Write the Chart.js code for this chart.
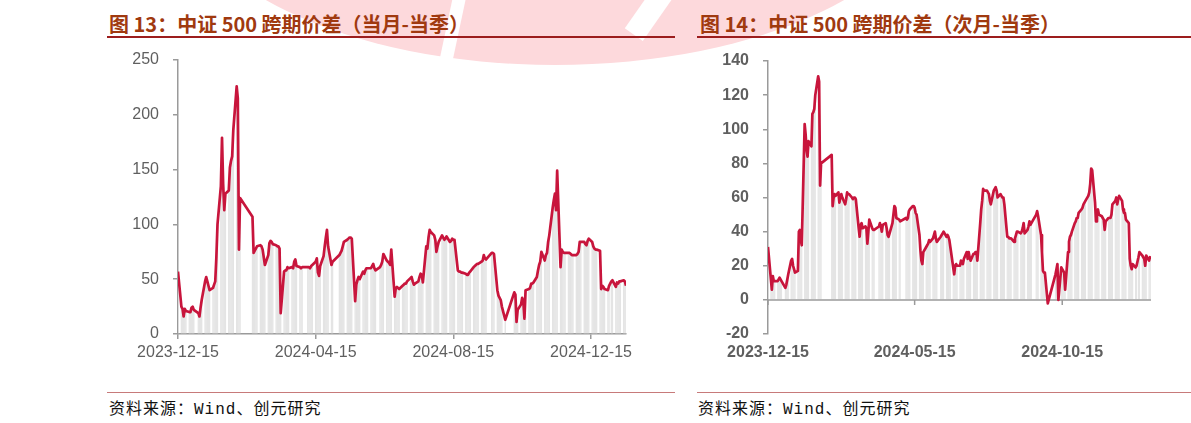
<!DOCTYPE html>
<html>
<head>
<meta charset="utf-8">
<script src="https://cdn.jsdelivr.net/npm/chart.js@4.4.1/dist/chart.umd.min.js"></script>
<style>
  body { margin: 0; width: 1191px; height: 423px; background: #fff; position: relative; overflow: hidden; }
  .wm { position: absolute; left: 175px; top: -305px; width: 760px; height: 370px; border-radius: 50%; background: #fdd9dc; }
  .wm-cut { position: absolute; background: #fff; }
  .title { position: absolute; top: 9px; line-height: 24px; font: bold 20px "Noto Sans CJK SC", sans-serif; color: #a0390f; white-space: nowrap; }
  .rule { position: absolute; top: 36px; height: 2px; background: #9c1d1d; }
  .foot-rule { position: absolute; top: 392px; height: 1px; background: #c77a7a; }
  .source { position: absolute; top: 395px; line-height: 22px; font: 16px "Liberation Mono", "Noto Sans CJK SC", monospace; letter-spacing: 1px; color: #111; white-space: nowrap; }
  canvas { position: absolute; }
</style>
</head>
<body>
<div class="wm"></div>
<div class="wm-cut" style="left:446px;top:-10px;width:13px;height:80px;transform:rotate(12deg);"></div>
<div class="wm-cut" style="left:640px;top:-20px;width:22px;height:60px;transform:rotate(35deg);"></div>

<div class="title" style="left:109px;">图 13：中证 500 跨期价差（当月-当季）</div>
<div class="rule" style="left:107px;width:568px;"></div>
<div class="title" style="left:700px;">图 14：中证 500 跨期价差（次月-当季）</div>
<div class="rule" style="left:697px;width:494px;"></div>

<canvas id="near" width="560" height="330" style="left:100px;top:45px;"></canvas>
<canvas id="next" width="490" height="330" style="left:690px;top:45px;"></canvas>

<div class="foot-rule" style="left:107px;width:568px;"></div>
<div class="source" style="left:109px;">资料来源：Wind、创元研究</div>
<div class="foot-rule" style="left:697px;width:494px;"></div>
<div class="source" style="left:698px;">资料来源：Wind、创元研究</div>

<script>
// exchange closed days inside the range (weekends are skipped too)
const holidays = ['2024-01-01', '2024-02-09', '2024-02-12', '2024-02-13', '2024-02-14', '2024-02-15', '2024-02-16',
  '2024-04-04', '2024-04-05', '2024-05-01', '2024-05-02', '2024-05-03', '2024-06-10', '2024-09-16', '2024-09-17',
  '2024-10-01', '2024-10-02', '2024-10-03', '2024-10-04', '2024-10-07', '2025-01-01'];
const startDate = '2023-12-15';
const endDate = '2025-01-15';

// 当月-当季, one value per trading day, month by month
const nearSpread = [
  57, 25, 23, 16, 23, 21, 20, 20, 24, 25, 22,
  19, 16, 24, 31, 48, 52, 48, 44, 40, 42, 45, 48, 70, 100, 135, 179, 137, 113, 128, 131, 152, 158,
  162, 186, 226, 215, 77, 124, 107, 74, 76, 78, 80, 81, 80, 77, 70,
  63, 72, 83, 85, 84, 82, 81, 80, 80, 78, 19, 57, 58, 58, 61, 60, 61, 60, 66, 68, 62,
  61, 60, 61, 61, 61, 60, 62, 63, 66, 69, 56, 53, 62, 71, 80, 88, 95, 80, 63, 66,
  72, 74, 76, 80, 84, 86, 87, 88, 88, 87, 30, 45, 49, 52, 50, 57, 55, 58, 60, 60,
  60, 62, 64, 60, 58, 61, 63, 66, 73, 67, 66, 65, 63, 77, 34, 42, 43, 42, 41,
  44, 45, 46, 46, 48, 51, 52, 48, 45, 46, 48, 52, 55, 54, 47, 80, 78, 88, 95, 93, 90, 86, 75,
  80, 84, 90, 88, 86, 87, 89, 84, 85, 87, 86, 86, 58, 57, 57, 56, 56, 55, 54, 54, 56, 57,
  61, 62, 63, 64, 64, 66, 67, 72, 69, 68, 74, 74, 73, 40, 35, 33, 31, 25, 13,
  38, 36, 11, 22, 27, 33, 30, 14, 40, 41, 42, 46, 46, 47, 52, 58, 63, 66,
  75, 67, 72, 74, 84, 90, 115, 122, 128, 113, 149, 61, 77, 75, 74, 74, 74, 74, 73, 72, 72,
  72, 73, 75, 84, 84, 84, 82, 81, 85, 87, 84, 80, 78, 77, 77, 76, 41, 44, 43, 41, 40, 44,
  48, 49, 43, 47, 46, 48, 48, 49, 48, 44
];

// 次月-当季
const nextSpread = [
  31, 12, 6, 14, 11, 11, 11, 12, 13, 12, 11,
  7, 9, 12, 15, 23, 24, 20, 18, 16, 17, 40, 41, 35, 32, 103, 97, 88, 84, 93, 90, 109, 110,
  112, 120, 131, 128, 67, 80, 85, 55, 60, 62, 61, 63, 57, 60, 62,
  60, 56, 59, 63, 62, 62, 60, 59, 60, 60, 59, 42, 37, 44, 45, 42, 43, 42, 33, 40, 47,
  42, 41, 41, 43, 45, 43, 40, 44, 45, 42, 38, 37, 39, 45, 50, 55, 54, 48, 47, 46,
  48, 47, 48, 52, 53, 55, 55, 54, 51, 50, 38, 29, 23, 21, 28, 31, 32, 33, 35, 34,
  36, 38, 40, 36, 34, 37, 38, 39, 40, 37, 38, 37, 35, 31, 19, 15, 20, 21, 20,
  20, 23, 22, 21, 24, 28, 24, 28, 25, 23, 27, 27, 28, 28, 23, 45, 53, 58, 65, 64, 64, 63, 62,
  58, 56, 64, 65, 66, 64, 60, 62, 61, 60, 60, 56, 37, 37, 36, 36, 36, 34, 36, 38, 40, 40,
  39, 40, 42, 45, 39, 41, 43, 46, 44, 45, 50, 52, 49, 38, 28, 17, 16, 16, -2,
  15, 18, 21, 0, 19, 18, 17, 16, 6, 28, 34, 37, 38, 40, 45, 46, 48, 48,
  51, 53, 54, 56, 57, 58, 61, 63, 68, 77, 76, 57, 46, 52, 53, 50, 49, 48, 47, 41, 46,
  48, 48, 48, 50, 56, 58, 60, 56, 59, 61, 58, 53, 51, 51, 47, 45, 24, 20, 18, 21, 19, 20,
  25, 28, 26, 25, 24, 20, 26, 23, 25, 24
];

const nearTickLabels = ['2023-12-15', '2024-04-15', '2024-08-15', '2024-12-15'];
const nextTickLabels = ['2023-12-15', '2024-05-15', '2024-10-15'];
const nearYTicks = [0, 250, 50];
const nextYTicks = [-20, 140, 20];

const DAY = 864e5;
const t0 = Date.parse(startDate);
const dayOf = s => Math.round((Date.parse(s) - t0) / DAY);

// calendar-day offsets of the trading days
const days = [];
for (let t = t0; t <= Date.parse(endDate); t += DAY) {
  const d = new Date(t);
  const wd = d.getUTCDay();
  if (wd === 0 || wd === 6 || holidays.includes(d.toISOString().slice(0, 10))) continue;
  days.push(Math.round((t - t0) / DAY));
}

const GRAY = '#9a9a9a';
const LABEL = '#5f5f5f';
const RED = '#c8153c';

// axis line through zero plus tick marks, drawn after the bars and before the line
const zeroAxis = {
  id: 'zeroAxis',
  beforeDatasetDraw(chart, args) {
    if (args.index !== 0) return;
    const { ctx, chartArea, scales: { x, y } } = chart;
    const y0 = y.getPixelForValue(0);
    ctx.save();
    ctx.strokeStyle = GRAY;
    ctx.lineWidth = 1.5;
    ctx.beginPath();
    ctx.moveTo(chartArea.left, y0);
    ctx.lineTo(chartArea.right, y0);
    x.ticks.forEach(t => {
      const px = x.getPixelForValue(t.value);
      ctx.moveTo(px, y0);
      ctx.lineTo(px, y0 + 5);
    });
    ctx.stroke();
    ctx.restore();
  }
};

function makeChart(id, values, tickLabels, yTicks, opts) {
  const pts = days.map((d, i) => ({ x: d, y: values[i] }));
  const font = { family: '"Liberation Sans", Arial, sans-serif', size: 16, weight: opts.bold ? 'bold' : 'normal' };
  return new Chart(document.getElementById(id), {
    type: 'bar',
    data: {
      datasets: [
        { type: 'line', data: pts, borderColor: RED, borderWidth: 2.7, pointRadius: 0, tension: 0, order: 0, borderJoinStyle: 'round' },
        { type: 'bar', data: pts, backgroundColor: '#e4e4e4', barPercentage: 1.2, categoryPercentage: 1, order: 1 }
      ]
    },
    options: {
      responsive: false,
      animation: false,
      layout: { padding: { left: 0, right: opts.padRight, top: opts.padTop, bottom: 0 } },
      plugins: { legend: { display: false }, tooltip: { enabled: false } },
      scales: {
        x: {
          type: 'linear',
          offset: false,
          min: 0,
          max: dayOf(endDate),
          afterBuildTicks: axis => { axis.ticks = tickLabels.map(s => ({ value: dayOf(s) })); },
          afterFit: axis => { axis.height = 41; axis.paddingLeft = 0; axis.paddingRight = 0; },
          ticks: {
            autoSkip: false, maxRotation: 0, color: LABEL, font,
            padding: opts.zeroAxis ? 9 : 4,
            callback: (v) => tickLabels.find(s => dayOf(s) === v) || ''
          },
          grid: opts.zeroAxis
            ? { display: false, drawTicks: false }
            : { offset: false, drawOnChartArea: false, tickLength: 5, color: GRAY, lineWidth: 1.5 },
          border: { display: !opts.zeroAxis, color: GRAY, width: 1.5 }
        },
        y: {
          min: yTicks[0], max: yTicks[1],
          afterFit: axis => { axis.width = 78; axis.paddingTop = 0; axis.paddingBottom = 0; },
          ticks: { stepSize: yTicks[2], color: LABEL, font, padding: 14 },
          grid: { drawOnChartArea: false, tickLength: 5, color: GRAY, lineWidth: 1.5 },
          border: { color: GRAY, width: 1.5 }
        }
      }
    },
    plugins: opts.zeroAxis ? [zeroAxis] : []
  });
}

makeChart('near', nearSpread, nearTickLabels, nearYTicks, { bold: false, padRight: 34, padTop: 15, zeroAxis: false });
makeChart('next', nextSpread, nextTickLabels, nextYTicks, { bold: true, padRight: 29, padTop: 16, zeroAxis: true });
</script>
</body>
</html>
